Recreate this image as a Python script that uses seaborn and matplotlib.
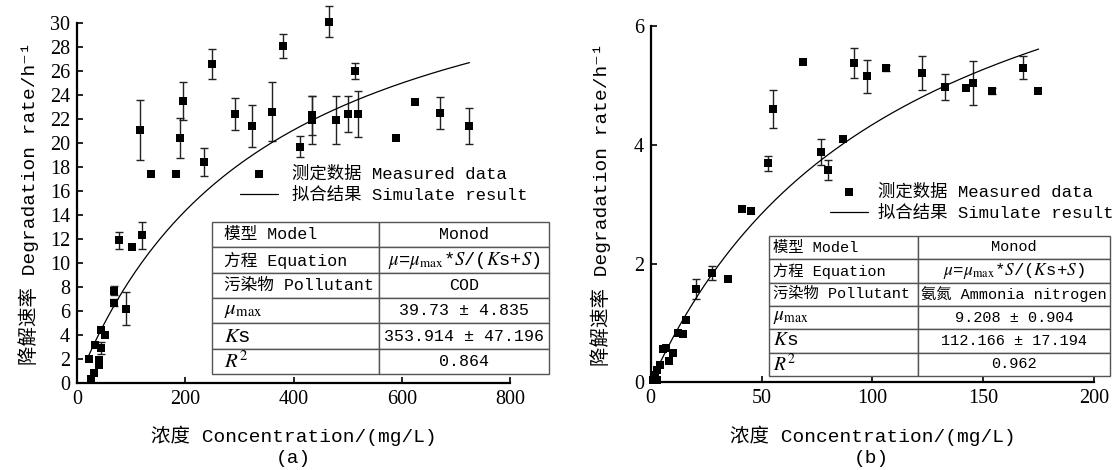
import numpy as np
import pandas as pd
import matplotlib
matplotlib.use("Agg")
import matplotlib.pyplot as plt
import seaborn as sns

# (a) COD
a_conc = [23, 25, 31, 33, 41, 41, 44, 44, 51, 69, 69, 78, 91, 101, 120, 117, 136, 182, 191, 195,
          234, 250, 291, 323, 361, 381, 412, 435, 435, 465, 479, 501, 513, 519, 589, 624, 671, 725]
a_rate = [2.0, 0.3, 0.8, 3.2, 1.9, 1.5, 2.9, 4.4, 4.0, 7.7, 6.7, 11.9, 6.2, 11.3, 12.3, 21.1, 17.4, 17.4, 20.4, 23.5,
          18.4, 26.6, 22.4, 21.4, 22.6, 28.1, 19.7, 22.3, 21.9, 30.1, 21.9, 22.4, 26.0, 22.4, 20.4, 23.4, 22.5, 21.4]
a_err = [0, 0, 0, 0, 0, 0, 0.5, 0, 0, 0.4, 0.3, 0.7, 1.35, 0, 1.15, 2.5, 0, 0, 1.65, 1.6,
         1.15, 1.25, 1.35, 1.75, 2.45, 1.0, 0.9, 1.6, 2.0, 1.3, 2.0, 1.5, 0.65, 1.9, 0, 0, 1.3, 1.5]
a_mumax, a_ks = 39.73, 353.914
a_range = [20, 725]
a_table = [["模型 Model", "Monod"],
           ["方程 Equation", r"$\mu$=$\mu_{\rm max}$*$S$/($K$s+$S$)"],
           ["污染物 Pollutant", "COD"],
           [r"$\mu_{\rm max}$", "39.73 ± 4.835"],
           [r"$K$s", "353.914 ± 47.196"],
           [r"$R^2$", "0.864"]]

# (b) ammonia nitrogen
b_conc = [1.2, 1.9, 2.7, 2.7, 4.2, 5.4, 6.9, 8.4, 9.9, 12.4, 14.4, 15.8, 20.4, 27.5, 35.0, 41.3, 45.2,
          52.7, 55.2, 68.6, 76.7, 80.0, 86.8, 91.6, 97.7, 106.0, 122.5, 132.6, 142.3, 145.3, 153.9, 168.0, 174.9]
b_rate = [0.05, 0.13, 0.21, 0.05, 0.29, 0.56, 0.58, 0.37, 0.49, 0.83, 0.82, 1.06, 1.57, 1.84, 1.74, 2.92, 2.88,
          3.69, 4.60, 5.40, 3.88, 3.57, 4.10, 5.38, 5.15, 5.29, 5.21, 4.97, 4.95, 5.04, 4.90, 5.30, 4.90]
b_err = [0, 0, 0, 0, 0, 0, 0, 0, 0, 0, 0, 0, 0.17, 0.12, 0, 0, 0,
         0.13, 0.32, 0, 0.22, 0.17, 0, 0.25, 0.27, 0.05, 0.29, 0.22, 0, 0.37, 0.05, 0.2, 0]
b_mumax, b_ks = 9.208, 112.166
b_range = [0, 175]
b_table = [["模型 Model", "Monod"],
           ["方程 Equation", r"$\mu$=$\mu_{\rm max}$*$S$/($K$s+$S$)"],
           ["污染物 Pollutant", "氨氮 Ammonia nitrogen"],
           [r"$\mu_{\rm max}$", "9.208 ± 0.904"],
           [r"$K$s", "112.166 ± 17.194"],
           [r"$R^2$", "0.962"]]

sns.set_theme(style="ticks")
plt.rcParams['font.family'] = ['Liberation Mono', 'Noto Sans CJK SC', 'DejaVu Sans']
plt.rcParams['mathtext.fontset'] = 'stix'

fig = plt.figure(figsize=(11.16, 4.7), dpi=100)
fig.patch.set_facecolor("white")


def draw_panel(ax, conc, rate, err, mumax, ks, srange, xlim, ylim, xticks, yticks,
               table_rows, table_bbox, col_widths, cell_pad, table_fs,
               legend_anchor, textpad, ylabelpad):
    df = pd.DataFrame({"conc": conc, "rate": rate, "err": err})
    sub = df[df["err"] > 0]
    eb = ax.errorbar(sub["conc"], sub["rate"], yerr=sub["err"], fmt="none", ecolor="#222222",
                     elinewidth=1.0, capsize=3, capthick=1.0, zorder=2)
    for art in eb.get_children():
        art.set_clip_on(False)
    sns.scatterplot(data=df, x="conc", y="rate", marker="s", s=30, color="black",
                    edgecolor="black", linewidth=0, ax=ax, zorder=3, clip_on=False,
                    label="测定数据 Measured data")
    # Monod model with the fitted parameters from the table
    s = np.linspace(srange[0], srange[1], 300)
    fit = pd.DataFrame({"conc": s, "rate": mumax * s / (ks + s)})
    sns.lineplot(data=fit, x="conc", y="rate", color="black", linewidth=0.9, ax=ax,
                 sort=False, label="拟合结果 Simulate result")

    ax.set_xlim(*xlim)
    ax.set_ylim(*ylim)
    ax.set_xticks(xticks)
    ax.set_yticks(yticks)
    for sp in ["top", "right"]:
        ax.spines[sp].set_visible(False)
    for sp in ["left", "bottom"]:
        ax.spines[sp].set_linewidth(1.6)
        ax.spines[sp].set_color("black")
    ax.tick_params(direction="in", length=4, width=1.2, colors="black", labelsize=14.5, pad=5)
    for lab in ax.get_xticklabels() + ax.get_yticklabels():
        lab.set_fontfamily("Liberation Serif")
    ax.set_xlabel("浓度 Concentration/(mg/L)", fontsize=14, labelpad=12, color="black")
    ax.set_ylabel("降解速率 Degradation rate/h⁻¹", fontsize=14, labelpad=ylabelpad, color="black")
    ax.set_facecolor("white")

    leg = ax.legend(loc="upper left", bbox_to_anchor=legend_anchor, frameon=False, fontsize=12.5,
                    borderpad=0, borderaxespad=0, handlelength=2.2, handletextpad=textpad,
                    labelspacing=0.3)
    for t in leg.get_texts():
        t.set_color("black")

    tb = ax.table(cellText=table_rows, bbox=table_bbox, colWidths=col_widths, cellLoc="center")
    tb.auto_set_font_size(False)
    for (r, c), cell in tb.get_celld().items():
        cell.set_edgecolor("#555555")
        cell.set_linewidth(1.0)
        cell.set_facecolor("white")
        txt = cell.get_text()
        txt.set_fontsize(table_fs)
        txt.set_color("black")
        if c == 0:
            txt.set_horizontalalignment("left")
            cell.PAD = cell_pad
            if r >= 3:
                txt.set_fontsize(table_fs + 3)
        if r == 1 and c == 1:
            txt.set_fontsize(table_fs + 1.5)
    tb.set_clip_on(False)
    tb.set_zorder(5)


ax_a = fig.add_axes([0.0690, 0.1851, 0.3880, 0.7660])
draw_panel(ax_a, a_conc, a_rate, a_err, a_mumax, a_ks, a_range, (0, 800), (0, 30),
           [0, 200, 400, 600, 800], list(range(0, 31, 2)),
           a_table, [0.312, 0.025, 0.778, 0.422], [0.496, 0.504], 0.07, 12,
           (0.376, 0.605), 0.8, 8)

ax_b = fig.add_axes([0.5831, 0.1862, 0.3972, 0.7585])
draw_panel(ax_b, b_conc, b_rate, b_err, b_mumax, b_ks, b_range, (0, 200), (0, 6),
           [0, 50, 100, 150, 200], [0, 2, 4, 6],
           b_table, [0.2675, 0.018, 0.7686, 0.3935], [0.437, 0.563], 0.025, 11,
           (0.404, 0.558), 0.57, 16)

fig.text(0.263, 0.015, "(a)", fontsize=14, ha="center", color="black")
fig.text(0.781, 0.015, "(b)", fontsize=14, ha="center", color="black")

fig.savefig("out.png", dpi=100, facecolor="white")
